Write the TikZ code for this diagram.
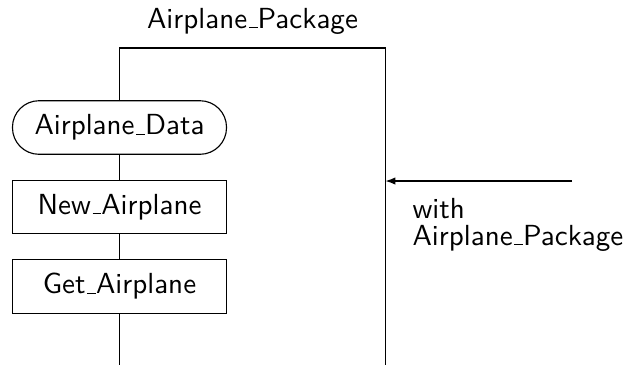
\documentclass[tikz,border=0pt]{standalone}
\usetikzlibrary{arrows.meta}
\renewcommand\familydefault{\sfdefault}
\newcommand\uscore{\leavevmode\kern.06em\vbox{\hrule width.3em}}
\begin{document}
\begin{tikzpicture}[x=0.3546pt,y=-0.3546pt,line width=0.4pt,
  every node/.style={font=\fontsize{10.3}{12.4}\selectfont},
  blk/.style={draw,inner sep=0pt,minimum width=75.9pt,minimum height=19pt},
  term/.style={blk,rounded corners=9.4pt},
  lbl/.style={inner sep=0pt}]
\useasboundingbox (0,0) rectangle (623,365);
\node[lbl,anchor=base] (title) at (252.5,28) {Airplane\uscore Package};
\node[term] (ad) at (119.5,127.5) {Airplane\uscore Data};
\node[blk] (na) at (119.5,207) {New\uscore Airplane};
\node[blk] (ga) at (119.5,286.5) {Get\uscore Airplane};
\coordinate (tl) at (119.5,48);
\coordinate (tr) at (385.5,48);
\coordinate (br) at (385.5,365);
\coordinate (bl) at (119.5,365);
\coordinate (src) at (572,181);
\coordinate (tgt) at (385.5,181);
\draw (ad.north) -- (tl) -- (tr) -- (br);
\draw (ad.south) -- (na.north);
\draw (na.south) -- (ga.north);
\draw (ga.south) -- (bl);
\draw[-{Latex[length=3.5pt,width=2.6pt]}] (src) -- (tgt);
\node[lbl,anchor=base west,align=left] (with) at (412,245) {with\\[-2.9pt]Airplane\uscore Package};
\end{tikzpicture}
\end{document}
